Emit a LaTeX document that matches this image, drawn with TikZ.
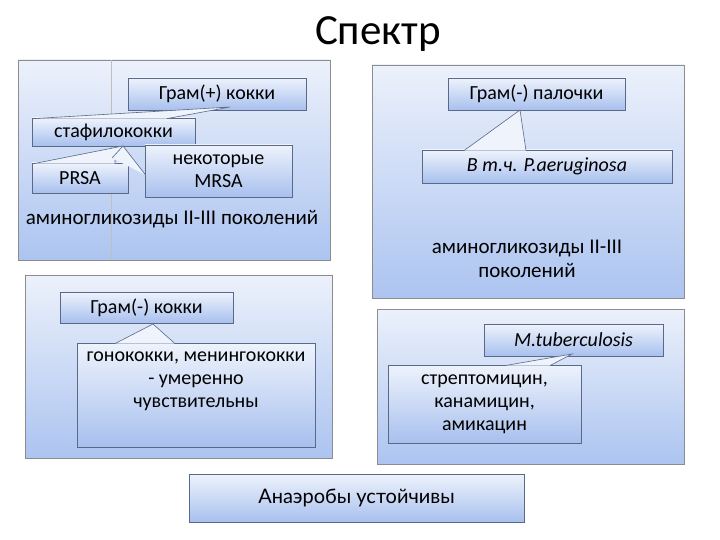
\documentclass[tikz,border=0pt]{standalone}
\usepackage{fontspec}
\setmainfont{Carlito}
\newfontfamily\geo{Lato}
\definecolor{ptop}{RGB}{236,241,251}
\definecolor{pbot}{RGB}{172,196,240}
\definecolor{btop}{RGB}{238,243,252}
\definecolor{bbot}{RGB}{168,192,238}
\definecolor{bord}{RGB}{90,105,135}
\begin{document}
\begin{tikzpicture}[x=1pt,y=-1pt,
  panel/.style={draw=black!45,line width=0.8pt,top color=ptop,bottom color=pbot,rectangle,inner sep=0pt},
  box/.style={draw=bord,line width=0.6pt,top color=btop,bottom color=bbot,rectangle,inner sep=1pt,align=center,font=\fontsize{20}{23}\selectfont},
  ptr/.style={fill=btop,draw=bord,line width=0.6pt},
  txt/.style={align=center,font=\fontsize{21}{24}\selectfont}]
\useasboundingbox (0,0) rectangle (720,540);
\node[font=\fontsize{43}{50}\selectfont] (title) at (378,34) {Спектр};
% panels
\node[panel,minimum width=312pt,minimum height=200pt] (p1) at (174,160) {};
\node[panel,minimum width=312pt,minimum height=233pt] (p2) at (528,181.5) {};
\node[panel,minimum width=307pt,minimum height=183pt] (p3) at (178.5,366.5) {};
\node[panel,minimum width=307pt,minimum height=155pt] (p4) at (530.5,386.5) {};
\draw[black!25,line width=0.5pt] (p1.north west) ++(94,0) coordinate (v1) -- (v1|-p1.south);
% panel 1
\node[box,minimum width=178pt,minimum height=32pt] (gp) at (217,94) {Грам(+) кокки};
\node[box,minimum width=163pt,minimum height=28pt] (st) at (113.5,132) {стафилококки};
\coordinate (t1) at (230,107);
\filldraw[ptr] (34,118.6) -- (t1) -- (167,118.6);
\node[box,minimum width=96pt,minimum height=30pt] (pr) at (80,178) {PRSA};
\node[box,minimum width=147pt,minimum height=52pt] (mr) at (218.5,171) {некоторые\\MRSA};
\coordinate (t2) at (123,146);
\filldraw[ptr] (34,163.6) -- (t2) -- (115,160) -- (115,163.6);
\filldraw[ptr] (112,158) -- (t2) -- (145.6,175);
\node[txt] (a1) at (172,219) {аминогликозиды II-III поколений};
% panel 2
\node[box,minimum width=177pt,minimum height=32pt] (gr) at (536.5,94) {Грам(-) палочки};
\node[box,minimum width=250pt,minimum height=33pt] (ae) at (547,166.5) {\itshape В т.ч. P.aeruginosa};
\coordinate (t3) at (520,110);
\filldraw[ptr] (464,150.6) -- (t3) -- (526,150.6);
\node[txt] (a2) at (527,259) {аминогликозиды II-III\\поколений};
% panel 3
\node[box,minimum width=173pt,minimum height=31pt] (gc) at (146.5,307.5) {Грам(-) кокки};
\node[box,minimum width=238pt,minimum height=104pt,text depth=30pt] (go) at (196,395) {гонококки, менингококки\\- умеренно\\чувствительны};
\coordinate (t4) at (153,324);
\filldraw[ptr] (115,343.6) -- (t4) -- (175,343.6);
% panel 4
\node[box,minimum width=179pt,minimum height=32pt] (mt) at (573.5,340) {\itshape M.tuberculosis};
\node[box,minimum width=193pt,minimum height=78pt] (sm) at (484.5,404) {стрептомицин,\\канамицин,\\амикацин};
\coordinate (t5) at (572,354);
\filldraw[ptr] (505,365.6) -- (t5) -- (550,365.6);
% bottom
\node[box,minimum width=335pt,minimum height=48pt,font=\geo\fontsize{20}{23}\selectfont] (an) at (356.5,498) {Анаэробы устойчивы};
\end{tikzpicture}
\end{document}
